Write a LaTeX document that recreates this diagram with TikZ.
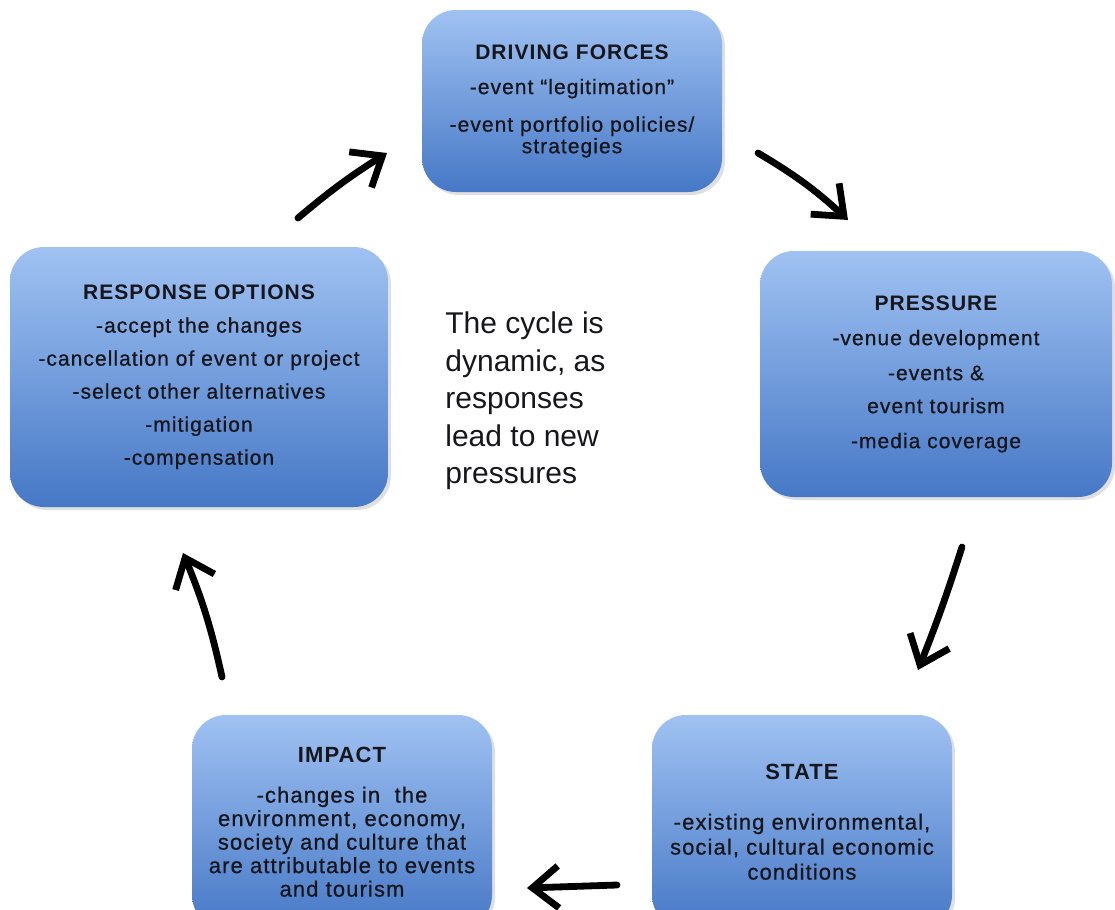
\documentclass[tikz,border=0pt]{standalone}
\usepackage{fontspec}
\setmainfont{Liberation Sans}
\newfontfamily\boxfont[LetterSpace=5, UprightFeatures={FakeBold=0.7}]{Liberation Sans}
\usetikzlibrary{positioning,arrows.meta,shadows}

\definecolor{boxtop}{RGB}{160,194,242}
\definecolor{boxbottom}{RGB}{70,120,198}
\definecolor{ink}{RGB}{22,22,28}

\begin{document}
\begin{tikzpicture}[
    x=0.5pt, y=-0.5pt,
    box/.style={rectangle, rounded corners=17pt, align=center, inner sep=0pt, text=ink, top color=boxtop, bottom color=boxbottom, drop shadow={shadow xshift=1.5pt, shadow yshift=-1.5pt, opacity=0.25}},
    arrow/.style={-{Straight Barb[length=13pt,width=21pt]}, line width=3.4pt, line cap=round, line join=round}
]

% Bordas da figura
\clip (0,0) rectangle (1115,910);

% Caixas do ciclo
\node[box, minimum width=150pt, minimum height=91pt, font=\boxfont\fontsize{10.5}{9.5}\selectfont] (driving) at (572,101)
    {\bfseries DRIVING FORCES\\[8pt] -event “legitimation”\\[8pt] -event portfolio policies/\\ strategies};
\node[box, minimum width=176pt, minimum height=123pt, font=\boxfont\fontsize{10.5}{17.5}\selectfont] (pressure) at (936,374)
    {\bfseries PRESSURE\\ -venue development\\ -events \&\\[-1pt] event tourism\\ -media coverage};
\node[box, minimum width=150pt, minimum height=107pt, font=\boxfont\fontsize{11}{12.5}\selectfont] (state) at (802,822)
    {\bfseries STATE\\[12.5pt] -existing environmental,\\ social, cultural economic\\ conditions};
\node[box, minimum width=150pt, minimum height=107pt, font=\boxfont\fontsize{11}{11.75}\selectfont] (impact) at (342,822)
    {\bfseries IMPACT\\[8.25pt] -changes in\ \ the\\ environment, economy,\\ society and culture that\\ are attributable to events\\ and tourism};
\node[box, minimum width=189pt, minimum height=130pt, font=\boxfont\fontsize{10.5}{16.5}\selectfont] (response) at (199,377)
    {\bfseries RESPONSE OPTIONS\\ -accept the changes\\ -cancellation of event or project\\ -select other alternatives\\ -mitigation\\ -compensation};

% Texto central
\node[anchor=west, align=left, inner sep=0pt, text=ink, font=\fontsize{15}{18.75}\selectfont] (cycle) at (445,401)
    {The cycle is\\ dynamic, as\\ responses\\ lead to new\\ pressures};

% Pontas das setas desenhadas a mao
\coordinate (rd-from) at (298,218);
\coordinate (rd-to) at (387,153);
\coordinate (dp-from) at (758,153);
\coordinate (dp-to) at (848,220);
\coordinate (ps-from) at (962,547);
\coordinate (ps-to) at (918,670);
\coordinate (si-from) at (617,885);
\coordinate (si-to) at (527,888);
\coordinate (ir-from) at (222,677);
\coordinate (ir-to) at (183,553);

% Setas do ciclo
\draw[arrow] (rd-from) to[bend left=4] (rd-to);
\draw[arrow] (dp-from) to[bend left=6] (dp-to);
\draw[arrow] (ps-from) to[bend left=2] (ps-to);
\draw[arrow] (si-from) -- (si-to);
\draw[arrow] (ir-from) to[bend right=5] (ir-to);

\end{tikzpicture}
\end{document}
